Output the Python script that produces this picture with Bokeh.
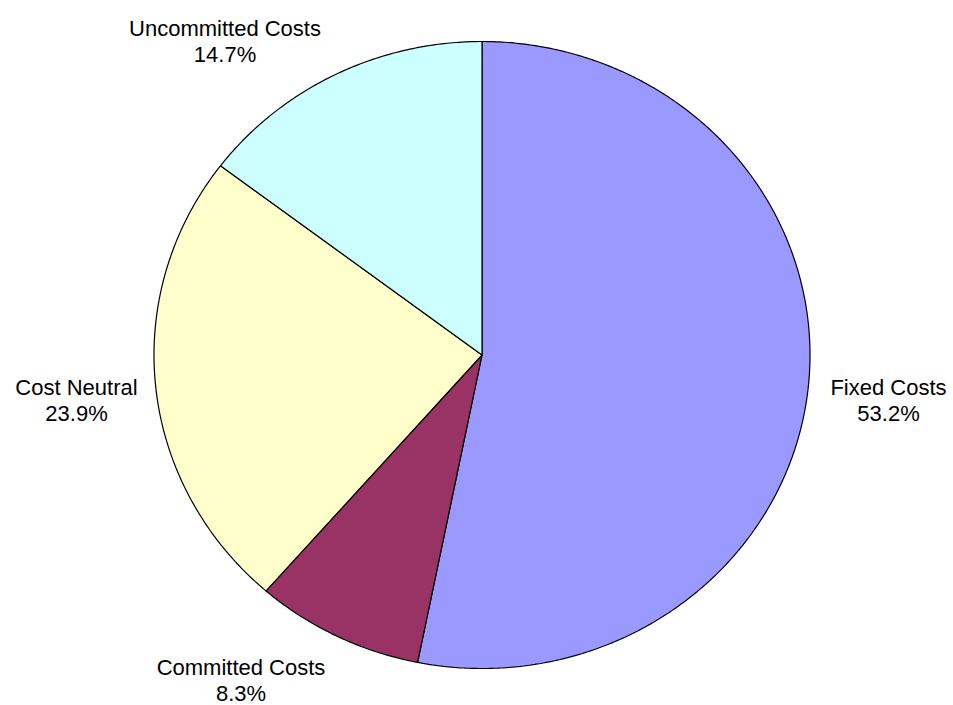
import numpy as np
from bokeh.plotting import figure
from bokeh.models import Range1d, ColumnDataSource
from bokeh.embed import file_html
from bokeh.resources import INLINE
from bokeh.core.properties import value

# ---- data ----
categories = ["Fixed Costs", "Committed Costs", "Cost Neutral", "Uncommitted Costs"]
shares = [53.2, 8.3, 23.9, 14.7]
pct_labels = ["53.2%", "8.3%", "23.9%", "14.7%"]

# ---- style / layout ----
colors = ["#9999FF", "#993366", "#FFFFCC", "#CCFFFF"]
CX, CY, RX, RY = 481.5, 354.5, 328.0, 313.5   # pie centre and radii (pixels, y down)
label_centres = [(888, 387), (240.5, 667), (76, 387), (224.5, 28)]  # centre x, first baseline y
LINE_GAP = 26

W, H = 953, 705
p = figure(width=W, height=H, x_range=Range1d(0, W), y_range=Range1d(H, 0),
           output_backend="svg", toolbar_location=None, min_border=0,
           x_axis_location=None, y_axis_location=None, background_fill_color="white")
p.grid.visible = False
p.outline_line_color = None

total = float(sum(shares))
xs, ys = [], []
cum = 0.0
for s in shares:
    t0 = 90.0 - 360.0 * cum / total
    cum += s
    t1 = 90.0 - 360.0 * cum / total
    n = max(8, int(abs(t1 - t0) * 2))
    ts = np.radians(np.linspace(t0, t1, n))
    px = [CX] + list(CX + RX * np.cos(ts)) + [CX]
    py = [CY] + list(CY - RY * np.sin(ts)) + [CY]
    xs.append(px)
    ys.append(py)

src = ColumnDataSource(dict(xs=xs, ys=ys, color=colors, name=categories))
p.patches("xs", "ys", source=src, fill_color="color", line_color="black", line_width=1.2)

lx = [c[0] for c in label_centres]
ly1 = [c[1] for c in label_centres]
ly2 = [c[1] + LINE_GAP for c in label_centres]
common = dict(text_align="center", text_baseline="alphabetic",
              text_font=value("Liberation Sans"), text_font_size="22px", text_color="black")
p.text(x=lx, y=ly1, text=categories, **common)
p.text(x=lx, y=ly2, text=pct_labels, **common)

open("out.html", "w").write(file_html(p, INLINE))
